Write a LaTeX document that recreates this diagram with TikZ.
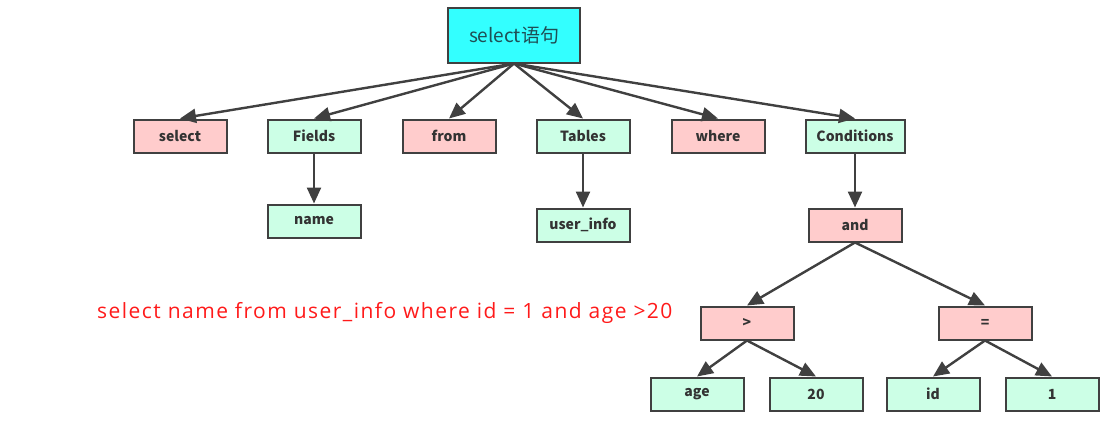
\documentclass[tikz,border=0pt]{standalone}
\usepackage{fontspec}
\setmainfont{Noto Sans CJK SC}
\newfontfamily\sqlfont[LetterSpace=7]{Open Sans}
\usetikzlibrary{arrows.meta}
\definecolor{pinkfill}{HTML}{FFCCCC}
\definecolor{mintfill}{HTML}{CCFFE6}
\definecolor{cyanfill}{HTML}{33FFFF}
\definecolor{edgecol}{HTML}{404040}
\definecolor{roottext}{HTML}{1F4F55}
\definecolor{labeltext}{HTML}{333333}
\definecolor{redtext}{HTML}{FF1A1A}
\tikzset{
  box/.style={draw=edgecol, line width=2pt, minimum width=93pt, minimum height=33pt, inner sep=0pt,
    font=\fontsize{14pt}{16pt}\selectfont\bfseries, text=labeltext},
  pinkbox/.style={box, fill=pinkfill},
  mintbox/.style={box, fill=mintfill},
  rootbox/.style={draw=edgecol, line width=2pt, fill=cyanfill, minimum width=132pt, minimum height=55pt,
    inner sep=0pt, font=\fontsize{19pt}{22pt}\selectfont, text=roottext},
  arr/.style={draw=edgecol, line width=2.4pt, -{Triangle[length=16pt,width=14pt]}}
}
\begin{document}
\begin{tikzpicture}[x=1pt,y=-1pt]
\useasboundingbox (0,0) rectangle (1107,423);
\node[rootbox] (root) at (514,35) {select语句};
\node[pinkbox] (sel) at (180,136) {select};
\node[mintbox] (fields) at (314,136) {Fields};
\node[pinkbox] (from) at (449,136) {from};
\node[mintbox] (tables) at (583,136) {Tables};
\node[pinkbox] (where) at (718,136) {where};
\node[mintbox, minimum width=99pt] (cond) at (855,136) {Conditions};
\node[mintbox] (name) at (314,221) {name};
\node[mintbox] (uinfo) at (583,225) {user\_info};
\node[pinkbox] (and) at (855,225) {and};
\node[pinkbox] (gt) at (747,323) {>};
\node[pinkbox] (eq) at (985,323) {=};
\node[mintbox] (age) at (697,394) {age};
\node[mintbox] (twenty) at (816,394) {20};
\node[mintbox] (id) at (933,394) {id};
\node[mintbox] (one) at (1052,394) {1};
\node[text=redtext, font=\sqlfont\fontsize{21pt}{24pt}\selectfont, anchor=west, inner sep=0pt] (sql) at (97,313) {select name from user\_info where id = 1 and age >20};
\foreach \c in {sel,fields,from,tables,where,cond} \draw[arr] (root.south) -- (\c.north);
\draw[arr] (fields.south) -- (name.north);
\draw[arr] (tables.south) -- (uinfo.north);
\draw[arr] (cond.south) -- (and.north);
\draw[arr] (and.south) -- (gt.north);
\draw[arr] (and.south) -- (eq.north);
\draw[arr] (gt.south) -- (age.north);
\draw[arr] (gt.south) -- (twenty.north);
\draw[arr] (eq.south) -- (id.north);
\draw[arr] (eq.south) -- (one.north);
\end{tikzpicture}
\end{document}
